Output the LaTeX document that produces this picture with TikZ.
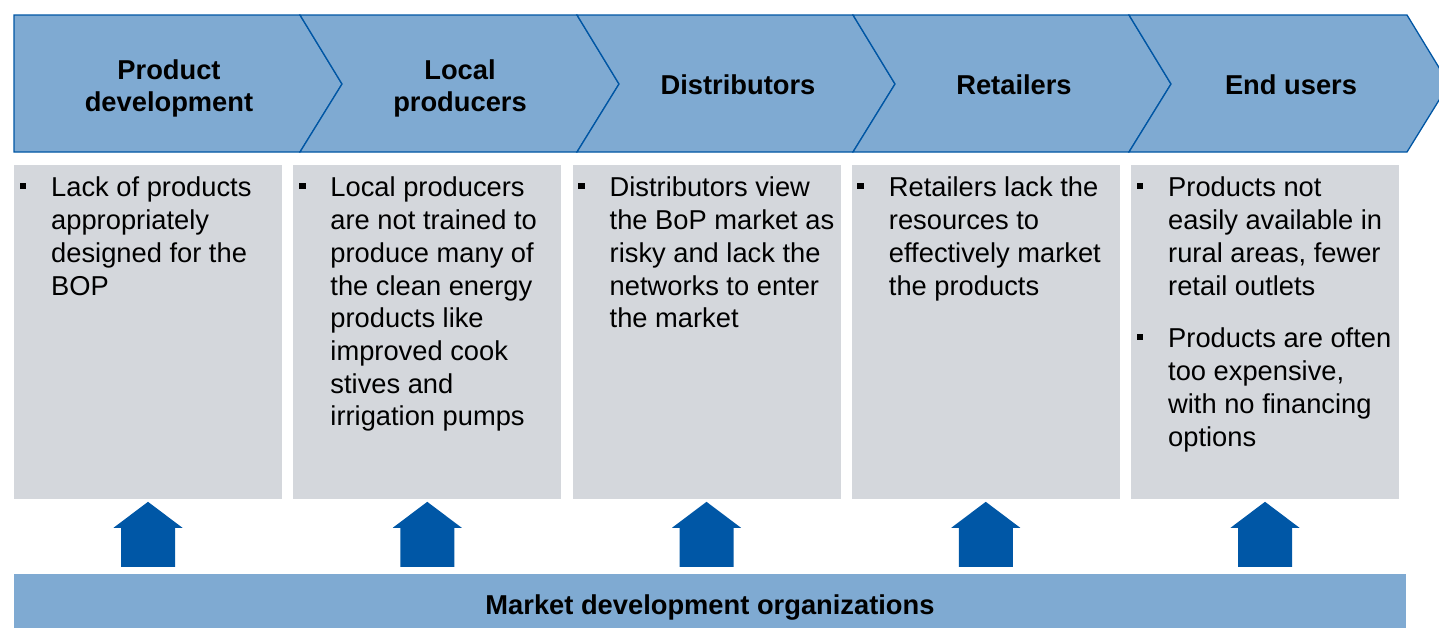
\documentclass[tikz,border=0pt]{standalone}
\usepackage{fontspec}
\setmainfont{Liberation Sans}
\usetikzlibrary{calc, positioning}
\definecolor{stagefill}{RGB}{127,170,210}
\definecolor{stagedraw}{RGB}{0,86,164}
\definecolor{issuefill}{RGB}{212,215,220}
\definecolor{supportfill}{RGB}{0,87,166}
\tikzset{
	value chain/.is family,
	value chain/.cd,
	stage/.style = {
		fill = stagefill,
		draw = stagedraw,
		line width = 1.3pt,
		line join = miter,
	},
	stage label/.style = {
		align = center,
		inner sep = 0pt,
		font = \fontsize{27.3pt}{32pt}\selectfont\bfseries,
	},
	issue box/.style = {
		fill = issuefill,
		inner sep = 0pt,
		outer sep = 0pt,
		minimum width = 268pt,
		minimum height = 334pt,
	},
	issue text/.style = {
		anchor = north west,
		align = left,
		inner sep = 0pt,
		font = \fontsize{27.3pt}{32.7pt}\selectfont,
	},
	bullet mark/.style = {
		fill = black,
		inner sep = 0pt,
		minimum size = 6.8pt,
	},
	support bar/.style = {
		fill = stagefill,
		inner sep = 0pt,
		minimum width = 1392pt,
		minimum height = 66pt,
		font = \fontsize{27.3pt}{32pt}\selectfont\bfseries,
	},
	support arrow/.style = {
		fill = supportfill,
	},
}

\begin{document}
\begin{tikzpicture}[x = 1pt, y = -1pt]
	\useasboundingbox (0, 0) rectangle (1439, 627);
	\clip (0, 0) rectangle (1439, 627);
	% chevrons of the chain
	\draw[value chain/stage] (14, 15) -- (300, 15) -- (342, 84) -- (300, 152) -- (14, 152) -- cycle;
	\foreach \l/\r in {300/577, 577/853, 853/1129, 1129/1407}{
		\draw[value chain/stage] (\l, 15) -- (\r, 15) -- (\r + 42, 84) -- (\r, 152) -- (\l, 152) -- (\l + 42, 84) -- cycle;
	}
	\node[value chain/stage label] (stage-1) at (169, 88) {Product\\development};
	\node[value chain/stage label] (stage-2) at (460, 88) {Local\\producers};
	\node[value chain/stage label] (stage-3) at (738, 85) {Distributors};
	\node[value chain/stage label] (stage-4) at (1014, 85) {Retailers};
	\node[value chain/stage label] (stage-5) at (1291, 85) {End users};
	% barriers below each stage
	\node[value chain/issue box, anchor = north west] (issue-1) at (14, 165) {};
	\foreach \i [evaluate = \i as \j using int(\i - 1)] in {2, ..., 5}{
		\node[value chain/issue box, right = 11.25pt of issue-\j] (issue-\i) {};
	}
	\node[value chain/issue text] (item-1) at ($(issue-1.north west) + (37, 12)$) {Lack of products\\appropriately\\designed for the\\BOP};
	\node[value chain/issue text] (item-2) at ($(issue-2.north west) + (37, 12)$) {Local producers\\are not trained to\\produce many of\\the clean energy\\products like\\improved cook\\stives and\\irrigation pumps};
	\node[value chain/issue text] (item-3) at ($(issue-3.north west) + (37, 12)$) {Distributors view\\the BoP market as\\risky and lack the\\networks to enter\\the market};
	\node[value chain/issue text] (item-4) at ($(issue-4.north west) + (37, 12)$) {Retailers lack the\\resources to\\effectively market\\the products};
	\node[value chain/issue text] (item-5) at ($(issue-5.north west) + (37, 12)$) {Products not\\easily available in\\rural areas, fewer\\retail outlets};
	\node[value chain/issue text] (item-6) at ($(item-5.north west) + (0, 151)$) {Products are often\\too expensive,\\with no financing\\options};
	\foreach \n in {1, ..., 6}{
		\node[value chain/bullet mark] (bullet-\n) at ($(item-\n.north west) + (-28, 9)$) {};
	}
	% support from below
	\node[value chain/support bar] (support) at (710, 607) {Market development organizations};
	\foreach \i in {1, ..., 5}{
		\coordinate (foot-\i) at (issue-\i.south |- support.north);
		\fill[value chain/support arrow] ($(foot-\i) + (-27, -7)$) -- ++(0, -39) -- ++(-7.5, 0) -- ++(34.5, -26) -- ++(34.5, 26) -- ++(-7.5, 0) -- ++(0, 39) -- cycle;
	}
\end{tikzpicture}
\end{document}
